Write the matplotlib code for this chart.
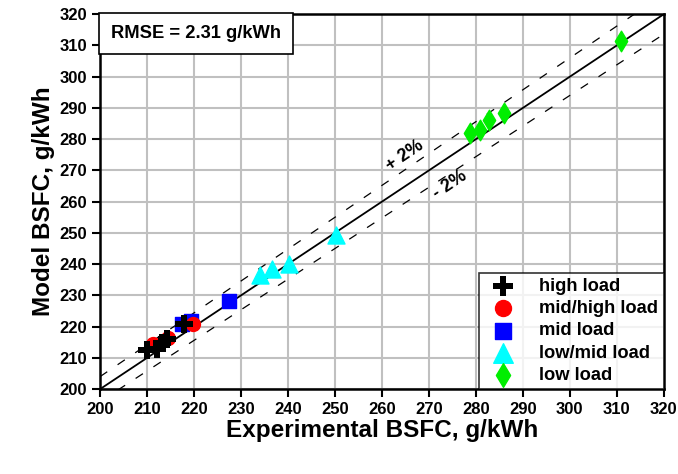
import matplotlib
matplotlib.use("Agg")
import matplotlib.pyplot as plt
import numpy as np

plt.rcParams['font.family'] = ['Liberation Sans', 'DejaVu Sans']
plt.rcParams['font.weight'] = 'bold'

# experimental vs model BSFC, g/kWh
high_exp = [209.9, 212.1, 213.1, 214.2, 217.9]
high_mod = [212.5, 213.0, 214.8, 216.2, 220.8]
midhigh_exp = [211.3, 214.5, 219.9]
midhigh_mod = [214.3, 216.5, 220.7]
mid_exp = [217.5, 219.4, 227.5]
mid_mod = [220.8, 221.8, 228.3]
lowmid_exp = [234.0, 236.7, 240.3, 250.2]
lowmid_mod = [236.5, 238.6, 240.2, 249.3]
low_exp = [278.7, 280.9, 282.8, 286.0, 311.0]
low_mod = [281.9, 282.9, 286.3, 288.5, 311.5]

ticks = np.arange(200, 321, 10)

fig = plt.figure(figsize=(6.78, 4.74), dpi=100)
ax = fig.add_axes([0.1475, 0.179, 0.8315, 0.791])

ax.grid(True, color='#c0c0c0', linewidth=1.5, zorder=0)
ax.set_axisbelow(True)

line = np.array([200, 320])
ax.plot(line, line, color='black', linewidth=1.3, zorder=2)
ax.plot(line, line * 1.02, color='black', linewidth=0.9, dashes=(7, 10), zorder=2)
ax.plot(line, line * 0.98, color='black', linewidth=0.9, dashes=(7, 10), zorder=2)

ax.scatter(low_exp, low_mod, marker='d', s=110, color='#00ee00', label='low load', zorder=3)
ax.scatter(lowmid_exp, lowmid_mod, marker='^', s=150, color='#00ffff', label='low/mid load', zorder=3)
ax.scatter(mid_exp, mid_mod, marker='s', s=90, color='#0000ff', label='mid load', zorder=3)
ax.scatter(midhigh_exp, midhigh_mod, marker='o', s=100, color='#ff0000', label='mid/high load', zorder=3)
ax.scatter(high_exp, high_mod, marker='P', s=170, color='black', linewidths=0, label='high load', zorder=4)

ax.text(264.9, 274.9, '+ 2%', rotation=34, fontsize=13, ha='center', va='center')
ax.text(274.5, 265.5, '- 2%', rotation=34, fontsize=13, ha='center', va='center')

ax.set_xlim(200, 320)
ax.set_ylim(200, 320)
ax.set_xticks(ticks)
ax.set_yticks(ticks)
ax.tick_params(direction='out', length=6, width=1.5, labelsize=12)
for lab in ax.get_xticklabels() + ax.get_yticklabels():
    lab.set_fontweight('bold')
for s in ax.spines.values():
    s.set_linewidth(1.8)

ax.set_xlabel('Experimental BSFC, g/kWh', fontsize=17.5, fontweight='bold', labelpad=1)
ax.set_ylabel('Model BSFC, g/kWh', fontsize=17.5, fontweight='bold', labelpad=3)

handles, labels = ax.get_legend_handles_labels()
order = [4, 3, 2, 1, 0]
leg = ax.legend([handles[i] for i in order], [labels[i] for i in order],
                loc='lower right', fontsize=13.2, frameon=True, fancybox=False,
                edgecolor='black', borderaxespad=0, handletextpad=1.0,
                labelspacing=0.28, borderpad=0.3, markerscale=1.15)
leg.get_frame().set_linewidth(1.2)
for t in leg.get_texts():
    t.set_fontweight('bold')

ax.text(0.02, 0.972, 'RMSE = 2.31 g/kWh', transform=ax.transAxes, fontsize=13.2,
        fontweight='bold', va='top', ha='left',
        bbox=dict(boxstyle='square,pad=0.65', facecolor='white', edgecolor='black', linewidth=1.2))

fig.savefig('out.png', dpi=100)
